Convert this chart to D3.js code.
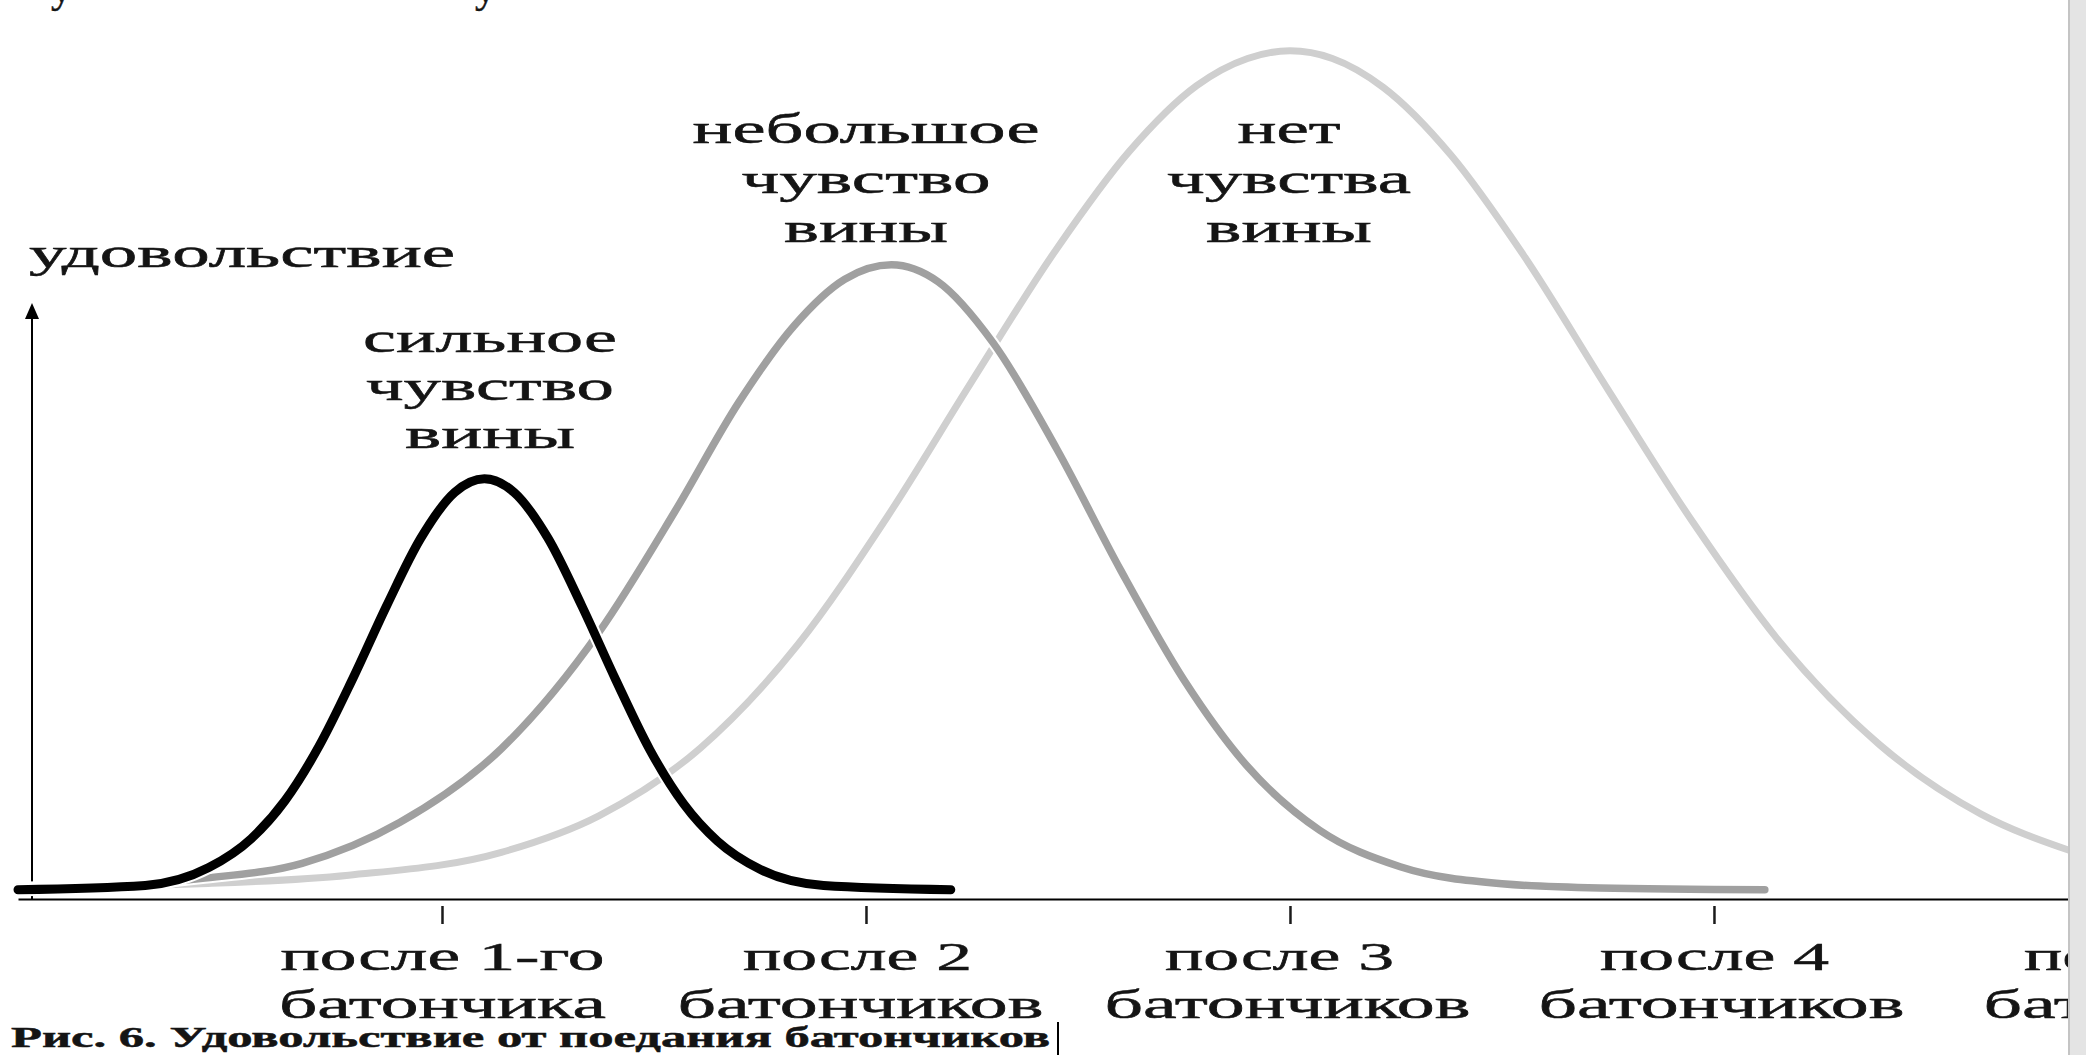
<!DOCTYPE html>
<html lang="ru">
<head>
<meta charset="utf-8">
<title>Рис. 6. Удовольствие от поедания батончиков</title>
<script src="https://cdn.jsdelivr.net/npm/d3@7"></script>
<style>
    body { margin: 0; background: #fff; overflow: hidden; }
    svg text { font-family: "Liberation Serif", "DejaVu Serif", serif; fill: #141414; stroke: #141414; stroke-width: 0.5px; }
</style>
</head>
<body>
<div id="chart"></div>
<script>
// x = how many bars were eaten, y = pleasure (0..100)
const tickValues = [1, 2, 3, 4, 5];
const tickLine1 = ["после 1-го", "после 2", "после 3", "после 4", "после 5"];
const tickLine2 = ["батончика", "батончиков", "батончиков", "батончиков", "батончиков"];

// strong guilt (black)
const strongX = [0.00, 0.30, 0.45, 0.55, 0.63, 0.71, 0.79, 0.87, 0.95, 1.03, 1.10, 1.17, 1.25, 1.33, 1.41, 1.49, 1.57, 1.65, 1.75, 1.90, 2.20];
const strongY = [1.1, 1.6, 3.7, 7.1, 11.6, 18.0, 26.0, 34.6, 42.5, 47.9, 49.5, 47.9, 42.5, 34.5, 25.8, 17.6, 11.2, 6.8, 3.5, 1.6, 1.1];

// a little guilt (dark grey)
const mediumX = [0.00, 0.43, 0.67, 0.90, 1.14, 1.37, 1.55, 1.70, 1.83, 1.95, 2.06, 2.17, 2.30, 2.45, 2.60, 2.75, 2.90, 3.07, 3.26, 3.50, 3.73, 4.12];
const mediumY = [1.1, 2.4, 4.2, 9.0, 17.7, 31.4, 45.7, 58.5, 67.5, 73.0, 74.7, 72.7, 65.5, 53.0, 38.8, 25.8, 15.6, 8.1, 3.8, 1.8, 1.3, 1.1];

// no guilt (light grey)
const noneX = [0.00, 0.43, 0.78, 1.14, 1.37, 1.61, 1.84, 2.05, 2.25, 2.45, 2.62, 2.78, 2.90, 3.00, 3.10, 3.22, 3.38, 3.55, 3.75, 3.95, 4.15, 4.39, 4.63, 4.84];
const noneY = [1.4, 1.8, 2.8, 5.5, 9.8, 17.8, 30.0, 45.0, 61.0, 76.6, 88.0, 95.8, 99.0, 99.9, 99.0, 95.6, 87.6, 75.9, 60.0, 44.4, 30.6, 18.2, 10.0, 5.7];

const curveNames = [
    ["нет", "чувства", "вины"],
    ["небольшое", "чувство", "вины"],
    ["сильное", "чувство", "вины"]
];
const yTitle = "удовольствие";
const caption = "Рис. 6. Удовольствие от поедания батончиков";

// ---- layout ----
const W = 2098, H = 1055;
const plotRight = 2068;

const svg = d3.select("#chart").append("svg")
    .attr("width", W)
    .attr("height", H)
    .style("display", "block");

svg.append("rect").attr("width", W).attr("height", H).attr("fill", "#fff");

const x = d3.scaleLinear().domain([0, 4.835]).range([18, plotRight]);
const y = d3.scaleLinear().domain([0, 100]).range([899, 50]);

svg.append("defs").append("clipPath")
    .attr("id", "clip")
    .append("rect")
    .attr("x", 0).attr("y", 0)
    .attr("width", plotRight).attr("height", H);

const g = svg.append("g").attr("clip-path", "url(#clip)");

// bits of the previous text line, cut by the top edge
g.append("text").attr("x", 51).attr("y", 2).style("font-size", "42px").text("у");
g.append("text").attr("x", 475).attr("y", 2).style("font-size", "42px").text("у");

// x axis
const xAxis = g.append("g")
    .attr("transform", "translate(0," + y(0) + ")")
    .call(d3.axisBottom(x).tickValues(tickValues).tickSizeOuter(0).tickFormat(""));
xAxis.select(".domain").attr("stroke", "#000").attr("stroke-width", 2);
xAxis.selectAll(".tick line")
    .attr("y1", 7).attr("y2", 25)
    .attr("stroke", "#1a1a1a").attr("stroke-width", 2.5);

const tickWidths1 = [324, 229, 229, 229, 229];
const tickWidths2 = [327, 366, 366, 366, 366];
const tickShift1 = [0, -9, -11, 0, 0];
const tickShift2 = [0, -6, -3, 7, 28];
xAxis.selectAll(".tick").each(function (d, i) {
    const t = d3.select(this);
    t.append("text")
        .attr("x", tickShift1[i]).attr("y", 71).attr("text-anchor", "middle")
        .attr("textLength", tickWidths1[i]).attr("lengthAdjust", "spacingAndGlyphs")
        .style("font-size", "40px").attr("fill", "#141414")
        .text(tickLine1[i]);
    t.append("text")
        .attr("x", tickShift2[i]).attr("y", 119).attr("text-anchor", "middle")
        .attr("textLength", tickWidths2[i]).attr("lengthAdjust", "spacingAndGlyphs")
        .style("font-size", "40px").attr("fill", "#141414")
        .text(tickLine2[i]);
});

// y axis with arrow
const yAxisX = x(0) + 14;
g.append("line")
    .attr("x1", yAxisX).attr("x2", yAxisX)
    .attr("y1", y(0)).attr("y2", 312)
    .attr("stroke", "#000").attr("stroke-width", 2);
g.append("path")
    .attr("d", d3.line()([[yAxisX, 303], [yAxisX - 7, 319], [yAxisX + 7, 319]]) + "Z")
    .attr("fill", "#000");

g.append("text")
    .attr("x", 29).attr("y", 267)
    .attr("textLength", 426).attr("lengthAdjust", "spacingAndGlyphs")
    .style("font-size", "42px")
    .text(yTitle);

// curves
const line = d3.line()
    .x(d => x(d[0]))
    .y(d => y(d[1]))
    .curve(d3.curveMonotoneX);

const series = [
    { xs: noneX, ys: noneY, color: "#cfcfcf", width: 7 },
    { xs: mediumX, ys: mediumY, color: "#a0a0a0", width: 7.5 },
    { xs: strongX, ys: strongY, color: "#000000", width: 9 }
];

series.forEach(s => {
    const pts = d3.zip(s.xs, s.ys);
    g.append("path")
        .attr("d", line(pts))
        .attr("fill", "none")
        .attr("stroke", "#fff")
        .attr("stroke-width", s.width + 4)
        .attr("stroke-linecap", "round");
    g.append("path")
        .attr("d", line(pts))
        .attr("fill", "none")
        .attr("stroke", s.color)
        .attr("stroke-width", s.width)
        .attr("stroke-linecap", "round");
});

// curve labels
const labelSpots = [
    { cx: 1289, top: 143, step: 49.5, widths: [103, 244, 166] },
    { cx: 866, top: 143, step: 49.5, widths: [347, 249, 164] },
    { cx: 490, top: 352, step: 48, widths: [254, 248, 170] }
];
curveNames.forEach((lines, k) => {
    const spot = labelSpots[k];
    lines.forEach((txt, j) => {
        g.append("text")
            .attr("x", spot.cx)
            .attr("y", spot.top + j * spot.step)
            .attr("text-anchor", "middle")
            .attr("textLength", spot.widths[j]).attr("lengthAdjust", "spacingAndGlyphs")
            .style("font-size", "42px")
            .text(txt);
    });
});

// caption
svg.append("text")
    .attr("x", 11).attr("y", 1047)
    .attr("textLength", 1039).attr("lengthAdjust", "spacingAndGlyphs")
    .style("font-size", "30px").style("font-weight", "bold")
    .text(caption);
svg.append("line")
    .attr("x1", 1058).attr("x2", 1058)
    .attr("y1", 1022).attr("y2", H)
    .attr("stroke", "#000").attr("stroke-width", 2);

// grey strip on the right edge
svg.append("rect")
    .attr("x", plotRight).attr("y", 0)
    .attr("width", 18).attr("height", H)
    .attr("fill", "#e4e4e4");
svg.append("line")
    .attr("x1", plotRight + 1).attr("x2", plotRight + 1)
    .attr("y1", 0).attr("y2", H)
    .attr("stroke", "#c4c4c4").attr("stroke-width", 2);
</script>
</body>
</html>
